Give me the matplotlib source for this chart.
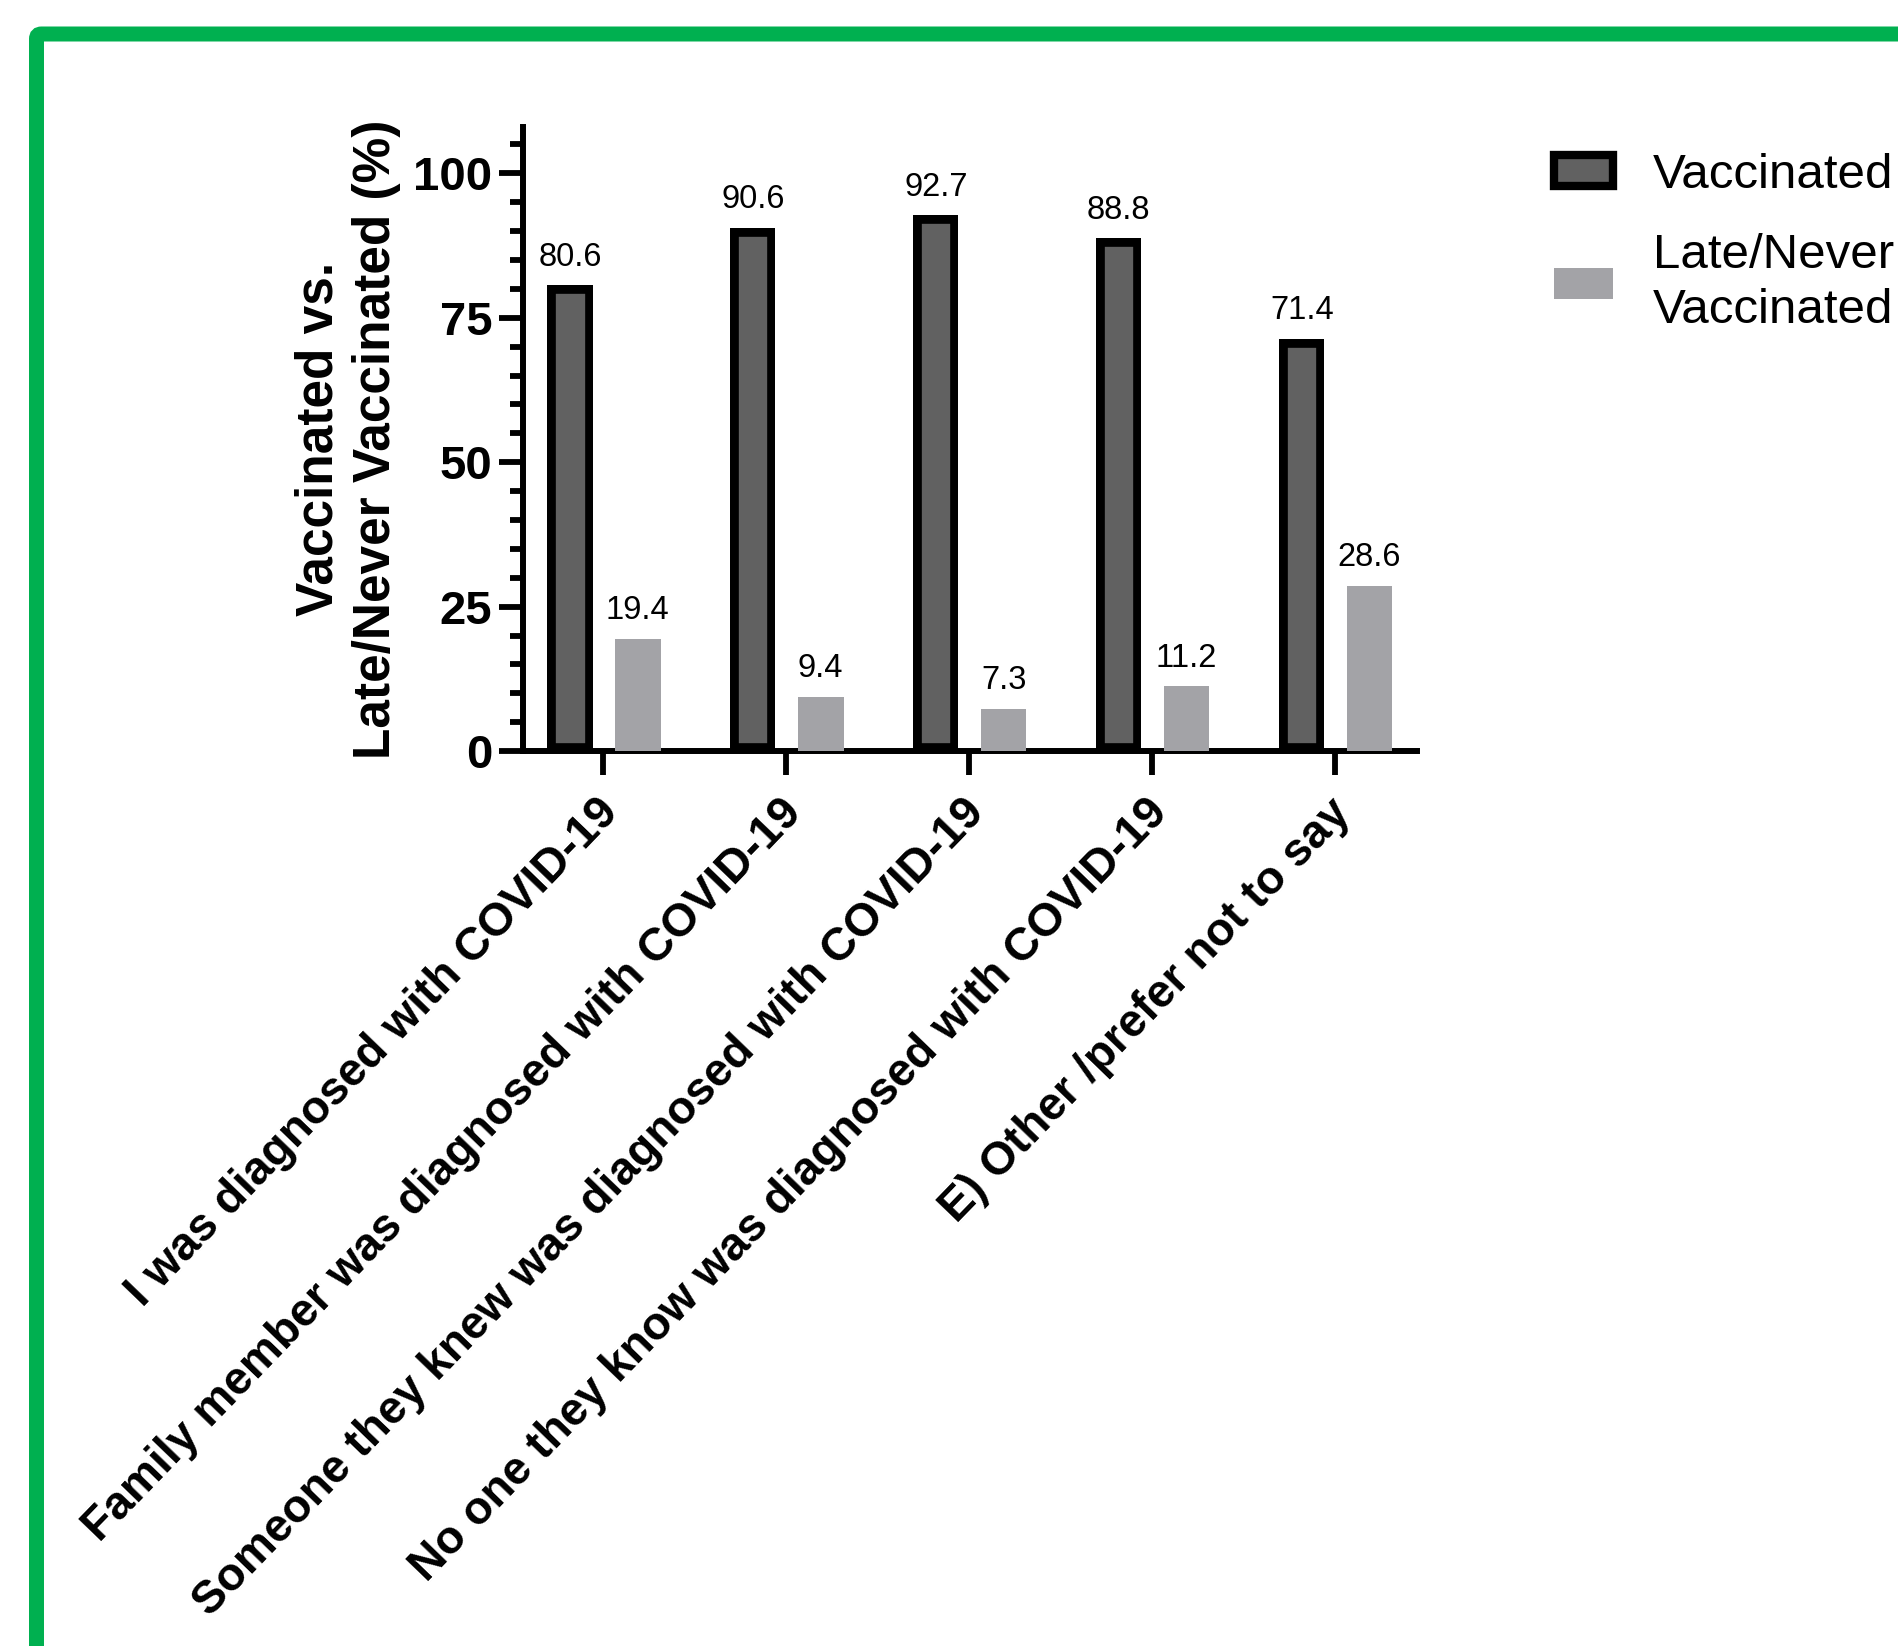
import numpy as np
import matplotlib
matplotlib.use('Agg')
import matplotlib.pyplot as plt
import matplotlib.transforms as mtransforms
from matplotlib.patches import FancyBboxPatch
from matplotlib.ticker import MultipleLocator

plt.rcParams['font.family'] = ['Liberation Sans', 'DejaVu Sans']

categories = ['I was diagnosed with COVID-19',
              'Family member was diagnosed with COVID-19',
              'Someone they knew was diagnosed with COVID-19',
              'No one they know was diagnosed with COVID-19',
              'E) Other /prefer not to say']
vaccinated = [80.6, 90.6, 92.7, 88.8, 71.4]
late_never = [19.4, 9.4, 7.3, 11.2, 28.6]
series_names = ['Vaccinated', 'Late/Never\nVaccinated']

fig = plt.figure(figsize=(18.99, 16.46), dpi=100)
ax = fig.add_axes([0.2754, 0.5437, 0.4708, 0.3791])

x = np.arange(len(categories))
# edge drawn twice as wide and clipped to the bar, so the border sits inside
b1 = ax.bar(x - 0.18, vaccinated, 0.246, color='#616161', edgecolor='black',
            linewidth=12, label=series_names[0], zorder=3)
b2 = ax.bar(x + 0.19, late_never, 0.25, color='#a3a3a7', linewidth=0,
            label=series_names[1], zorder=3)
ax.bar_label(b1, labels=['%.1f' % v for v in vaccinated], padding=9, fontsize=23.5)
ax.bar_label(b2, labels=['%.1f' % v for v in late_never], padding=9, fontsize=23.5)

ax.set_xlim(-0.437, 4.45)
ax.set_ylim(0, 108)
ax.yaxis.set_major_locator(MultipleLocator(25))
ax.yaxis.set_minor_locator(MultipleLocator(5))

for s in ['top', 'right']:
    ax.spines[s].set_visible(False)
for s in ['left', 'bottom']:
    ax.spines[s].set_linewidth(4.3)

ax.tick_params(axis='y', which='major', length=17.5, width=4.2, pad=4.5,
               labelsize=34)
ax.tick_params(axis='y', which='minor', length=9.5, width=4.2)
ax.tick_params(axis='x', which='major', length=17, width=4.2, pad=22.5)
for t in ax.get_yticklabels():
    t.set_fontweight('bold')

ax.set_xticks(x)
ax.set_xticklabels(categories, rotation=46, ha='right', va='center',
                   rotation_mode='anchor', fontsize=33.2, fontweight='bold')
offset = mtransforms.ScaledTranslation(0.09, 0, fig.dpi_scale_trans)
for t in ax.get_xticklabels():
    t.set_transform(t.get_transform() + offset)

ax.set_ylabel('Vaccinated vs.\nLate/Never Vaccinated (%)', fontsize=37,
              fontweight='bold', va='center', ha='center', linespacing=1.2)
ax.yaxis.set_label_coords(-0.196, 0.5)

leg = ax.legend(loc='upper left', bbox_to_anchor=(0.8183, 0.9071),
                bbox_transform=fig.transFigure, frameon=False, fontsize=35.5,
                borderpad=0, borderaxespad=0, handlelength=1.2,
                handleheight=0.6, handletextpad=0.8, labelspacing=0.72)
for t in leg.get_texts():
    t.set_linespacing(1.27)
leg.legend_handles[0].set_linewidth(6)

for p in b1:
    p.set_clip_path(p)

# green frame around the panel (open to the right and bottom)
frame = FancyBboxPatch((0.365, -1.0), 20.0, 17.12,
                       boxstyle='round,pad=0,rounding_size=0.05',
                       transform=fig.dpi_scale_trans, fill=False,
                       edgecolor='#00b050', linewidth=10.8)
fig.add_artist(frame)

fig.savefig('out.png', dpi=100)
